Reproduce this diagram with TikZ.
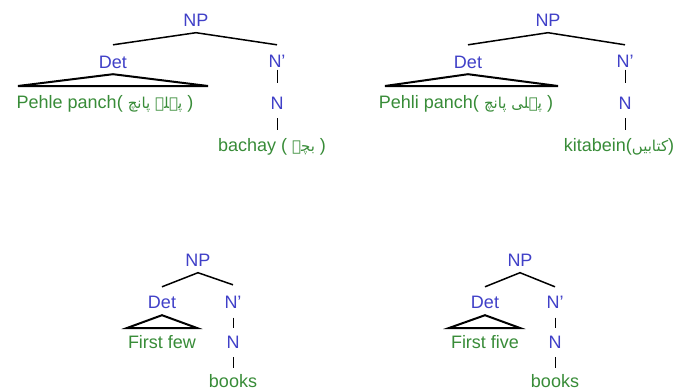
\documentclass[tikz,border=0pt]{standalone}
\usepackage{fontspec}
\setmainfont{Liberation Sans}
\newfontfamily\urdu[Script=Arabic]{DejaVu Sans}
\TeXXeTstate=1
\definecolor{catblue}{RGB}{64,64,200}
\definecolor{wordgreen}{RGB}{56,140,56}
\newcommand{\ur}[1]{{\urdu\fontsize{15}{16}\selectfont\beginR #1\endR}}
\begin{document}
\begin{tikzpicture}[x=1pt,y=-1pt,
  cat/.style={text=catblue, font=\fontsize{18}{20}\selectfont, inner sep=0pt, text height=13pt, text depth=0pt},
  word/.style={text=wordgreen, font=\fontsize{18}{20}\selectfont, inner sep=0pt, text height=13pt, text depth=0pt},
  branch/.style={line width=1.5pt},
  unary/.style={line width=1pt},
  roof/.style={line width=2pt, line join=miter}]
\fill[white] (0,0) rectangle (678,391);
\useasboundingbox (0,0) rectangle (678,391);

% Pehle panch bachay
\node[cat]  (np1)  at (196,20)  {NP};
\node[cat]  (det1) at (113,62)  {Det};
\node[cat]  (nb1)  at (277,61)  {N'};
\node[cat]  (n1)   at (277,103) {N};
\node[word] (d1)   at (105,102) {Pehle panch( \ur{پہلے پانچ} )};
\node[word] (w1)   at (272,145) {bachay ( \ur{بچے} )};
\coordinate (r1l) at (18,86);
\coordinate (r1r) at (208,86);
\draw[branch] ([yshift=10.5pt]det1.north) -- ([yshift=-6pt]np1.south) -- ([yshift=9.5pt]nb1.north);
\draw[roof] (r1l) -- ([yshift=-5.5pt]det1.south) -- (r1r) -- cycle;
\draw[unary] ([yshift=-2pt]nb1.south) -- ([yshift=13pt]n1.north);
\draw[unary] ([yshift=-8.5pt]n1.south) -- ([yshift=8.5pt]n1.south |- w1.north);

% Pehli panch kitabein
\node[cat]  (np2)  at (548,20)  {NP};
\node[cat]  (det2) at (468,62)  {Det};
\node[cat]  (nb2)  at (625,61)  {N'};
\node[cat]  (n2)   at (625,103) {N};
\node[word] (d2)   at (466,102) {Pehli panch( \ur{پہلی پانچ} )};
\node[word] (w2)   at (619,145) {kitabein(\ur{کتابیں})};
\coordinate (r2l) at (385,86);
\coordinate (r2r) at (558,86);
\draw[branch] ([yshift=10.5pt]det2.north) -- ([yshift=-6pt]np2.south) -- ([yshift=9.5pt]nb2.north);
\draw[roof] (r2l) -- ([yshift=-5.5pt]det2.south) -- (r2r) -- cycle;
\draw[unary] ([yshift=-2pt]nb2.south) -- ([yshift=13pt]n2.north);
\draw[unary] ([yshift=-8.5pt]n2.south) -- ([yshift=8.5pt]n2.south |- w2.north);

% First few books
\node[cat]  (np3)  at (198,260) {NP};
\node[cat]  (det3) at (162,302) {Det};
\node[cat]  (nb3)  at (233,302) {N'};
\node[cat]  (n3)   at (233,342) {N};
\node[word] (d3)   at (162,342) {First few};
\node[word] (w3)   at (233,381) {books};
\coordinate (r3l) at (127,328);
\coordinate (r3r) at (197,328);
\draw[branch] ([yshift=8.5pt]det3.north) -- ([yshift=-6pt]np3.south) -- ([yshift=10.5pt]nb3.north);
\draw[roof] (r3l) -- ([yshift=-6.5pt]det3.south) -- (r3r) -- cycle;
\draw[unary] ([yshift=-9pt]nb3.south) -- ([yshift=7.5pt]n3.north);
\draw[unary] ([yshift=-8.5pt]n3.south) -- ([yshift=6.5pt]w3.north);

% First five books
\node[cat]  (np4)  at (520,260) {NP};
\node[cat]  (det4) at (485,302) {Det};
\node[cat]  (nb4)  at (555,302) {N'};
\node[cat]  (n4)   at (555,342) {N};
\node[word] (d4)   at (485,342) {First five};
\node[word] (w4)   at (555,381) {books};
\coordinate (r4l) at (449,328);
\coordinate (r4r) at (520,328);
\draw[branch] ([yshift=8.5pt]det4.north) -- ([yshift=-6pt]np4.south) -- ([yshift=8.5pt]nb4.north);
\draw[roof] (r4l) -- ([yshift=-6.5pt]det4.south) -- (r4r) -- cycle;
\draw[unary] ([yshift=-9pt]nb4.south) -- ([yshift=7.5pt]n4.north);
\draw[unary] ([yshift=-8.5pt]n4.south) -- ([yshift=6.5pt]w4.north);
\end{tikzpicture}
\end{document}
